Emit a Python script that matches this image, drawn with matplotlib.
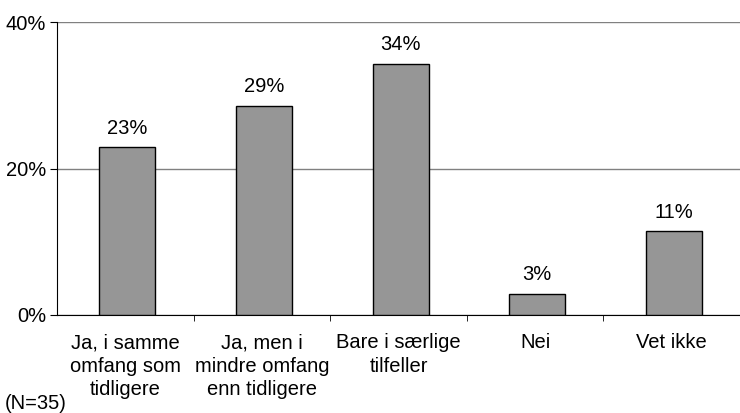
import matplotlib.pyplot as plt
import numpy as np

plt.rcParams['font.family'] = ['Liberation Sans', 'DejaVu Sans']

categories = ['Ja, i samme\nomfang som\ntidligere',
              'Ja, men i\nmindre omfang\nenn tidligere',
              'Bare i særlige\ntilfeller',
              'Nei',
              'Vet ikke']
values = [22.9, 28.6, 34.3, 2.9, 11.4]
labels = ['23%', '29%', '34%', '3%', '11%']

fs = 14.5

fig = plt.figure(figsize=(7.4, 4.13), dpi=100)
ax = fig.add_axes([57 / 740, 1 - 315 / 413, 1 - 57 / 740, (315 - 22) / 413])

x = np.arange(len(categories))
ax.bar(x + 0.015, values, width=0.41, color='#969696', edgecolor='black', linewidth=1, zorder=3)
for xi, v, lab in zip(x, values, labels):
    ax.text(xi + 0.015, v + 1.3, lab, ha='center', va='bottom', fontsize=fs)

ax.set_xlim(-0.5, 4.5)
ax.set_ylim(0, 40)
ax.set_yticks([0, 20, 40])
ax.set_yticklabels(['0%', '20%', '40%'], fontsize=fs)
ax.yaxis.grid(True, color='#808080', linewidth=1, zorder=0)

ax.set_xticks(x)
ax.set_xticklabels(categories, fontsize=fs, linespacing=1.3)
ax.tick_params(axis='x', length=0, pad=13)
ax.set_xticks(x[:-1] + 0.5, minor=True)
ax.tick_params(axis='x', which='minor', length=4, direction='out', color='black')
ax.tick_params(axis='y', length=5, direction='out', color='black', pad=3)

for s in ['top', 'right']:
    ax.spines[s].set_visible(False)
ax.spines['left'].set_color('black')
ax.spines['bottom'].set_color('black')

fig.text(5 / 740, 1 - 409 / 413, '(N=35)', fontsize=fs, va='baseline')

fig.savefig('out.png', dpi=100)
